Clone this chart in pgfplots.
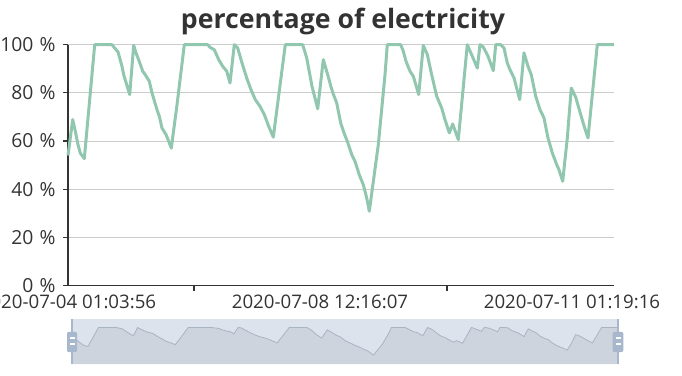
\documentclass[border=0pt]{standalone}
\usepackage{fontspec}
\setmainfont{Open Sans}
\usepackage{pgfplots}
\pgfplotsset{compat=1.18}
\usepackage{pgfplotstable}
\definecolor{linec}{HTML}{91C7AE}
\definecolor{txt}{HTML}{333333}
\definecolor{gridc}{HTML}{CCCCCC}
\definecolor{filler}{HTML}{DDE3EC}
\definecolor{shadowfill}{HTML}{CED4DE}
\definecolor{shadowline}{HTML}{A9B4C3}
\definecolor{handlec}{HTML}{A7B7CC}

\pgfplotstableread{
x y
0 54
4.7 68.9
7.3 64.1
10 58.5
12.3 55
16.3 52.7
26.7 100
44 100
46.7 98.6
50 97
54 91
55.7 87.5
61.7 79.3
65.7 99.7
68 96.6
71.3 93
74.7 89
77.3 87.5
81.3 84.8
84 80
89 73
91.3 70.3
94 65.4
98 62.7
100.7 59.9
103.3 57.1
109 75
116.3 100
139.7 100
142 98.9
146.3 97.9
150.7 93.8
154.7 91
158.7 89
162 84.1
166.3 100
169.7 98.6
174 92.4
178.7 86.2
183 81.3
187.3 77.2
192 74.4
196.3 71
200.7 66.1
205.3 61.6
217.3 100
234.7 100
238.7 94.5
244 82.7
249.7 73.4
255.3 93.8
259.7 87.5
263 82.5
265.3 79.5
268.7 75.8
272.7 67.5
276 63.4
279.3 59.9
283.7 54.4
287 51.6
291.3 46
295.3 41.9
298.7 36.4
301.3 30.9
310.3 58.5
317 87.5
319.3 100
332.7 100
335.3 97.3
338 93.1
342 89
345.3 86.9
350.7 79.3
355.3 99.7
359.3 95.9
363.7 87.5
368.7 78.6
373.7 73.7
377 68.9
381.3 63.4
384.7 67.1
390.3 60.6
399.3 100
404.3 95.2
409.3 90.3
412 100
415.3 99
420 95.2
425.3 89.2
427.7 100
432.7 100
436 98.6
439.3 92.4
442 89.6
446 86.2
451.7 77.2
456 96.6
460 91
463.3 87.5
467.7 78.6
472 73
476 69.6
480 61.3
484.3 55.1
488.7 50.2
491 48.1
494.7 43.3
499.3 61.3
503.3 82
507.7 78.2
512.7 71
516.7 65.4
520 61.3
529.3 100
546 100
}\datatable

\begin{document}
\begin{tikzpicture}[x=0.75pt,y=0.75pt]
\begin{axis}[
  at={(51pt,67pt)}, anchor=south west,
  scale only axis, width=409.5pt, height=180.75pt,
  xmin=0, xmax=546, ymin=0, ymax=100,
  axis lines*=left,
  axis line style={txt, line width=0.9pt},
  every outer x axis line/.append style={-}, every outer y axis line/.append style={-},
  ytick={0,20,40,60,80,100},
  yticklabels={0\hspace{0.32em}\%,20\hspace{0.32em}\%,40\hspace{0.32em}\%,60\hspace{0.32em}\%,80\hspace{0.32em}\%,100\hspace{0.32em}\%},
  ymajorgrids, grid style={gridc, line width=0.75pt},
  major tick style={txt, line width=0.9pt},
  major tick length=3.75pt, tick align=outside,
  xtick={126,379}, xticklabels={,},
  extra x ticks={0,252,504},
  extra x tick labels={2020-07-04 01:03:56,2020-07-08 12:16:07,2020-07-11 01:19:16},
  extra x tick style={major tick length=0pt, grid=none},
  tick label style={font=\fontsize{14pt}{16pt}\selectfont, text=txt},
  yticklabel style={xshift=-2pt, font=\fontsize{14.5pt}{16pt}\selectfont},
  xticklabel style={yshift=-3.5pt},
  clip=false,
]
\addplot[linec, line width=2.25pt, line join=round] table[x=x,y=y] {\datatable};
\end{axis}
\node[anchor=base, text=txt, font=\fontsize{20pt}{24pt}\selectfont\bfseries] at (343,346.5) {percentage of electricity};
% data zoom slider
\begin{axis}[
  at={(53.8pt,8.25pt)}, anchor=south west,
  scale only axis, width=410pt, height=33.75pt,
  xmin=0, xmax=546, ymin=9, ymax=121,
  hide axis, clip=true,
]
\fill[filler] (axis cs:0,9) rectangle (axis cs:546,121);
\addplot[draw=none, fill=shadowfill] table[x=x,y=y] {\datatable} \closedcycle;
\addplot[shadowline, line width=0.6pt] table[x=x,y=y] {\datatable};
\end{axis}
\draw[handlec, line width=1.5pt] (72,11) -- (72,56);
\draw[handlec, line width=1.5pt] (618,11) -- (618,56);
\fill[handlec, rounded corners=0.8pt] (67,23) rectangle (77,43);
\fill[handlec, rounded corners=0.8pt] (612.7,23) rectangle (623.3,43);
\draw[white, line width=0.9pt] (69.5,37) -- (74.5,37) (69.5,31) -- (74.5,31);
\draw[white, line width=0.9pt] (615.5,37) -- (620.5,37) (615.5,31) -- (620.5,31);
\pgfresetboundingbox
\path[use as bounding box] (0,0) rectangle (682,375);
\end{tikzpicture}
\end{document}
